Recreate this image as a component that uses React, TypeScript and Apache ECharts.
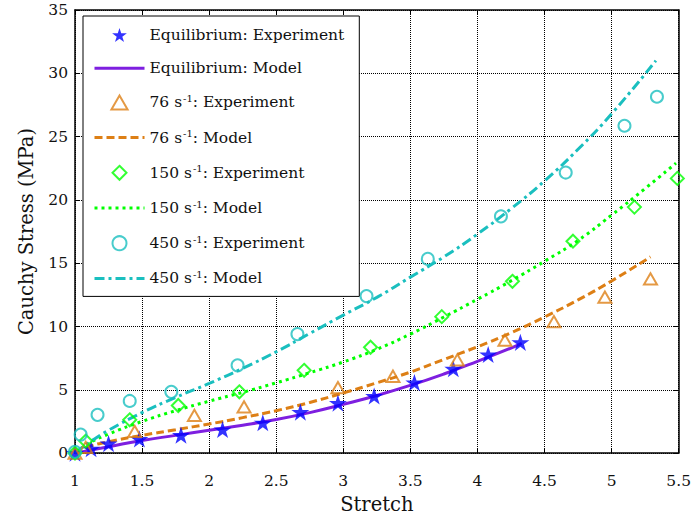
import React, { useEffect, useRef } from "react";
import * as echarts from "echarts";

// Equilibrium
const eqExpX = [1.0, 1.12, 1.25, 1.48, 1.79, 2.1, 2.4, 2.68, 2.96, 3.23, 3.53, 3.82, 4.08, 4.32];
const eqExpY = [0.0, 0.35, 0.75, 1.12, 1.42, 1.86, 2.4, 3.24, 3.95, 4.51, 5.57, 6.66, 7.79, 8.75];
const eqModelX = [1, 1.25, 1.5, 1.75, 2, 2.25, 2.5, 2.75, 3, 3.25, 3.5, 3.75, 4, 4.25, 4.33];
const eqModelY = [0, 0.5, 1.0, 1.4, 1.8, 2.2, 2.65, 3.2, 3.85, 4.55, 5.35, 6.25, 7.25, 8.3, 8.67];

// 76 s^-1
const r76ExpX = [1.0, 1.08, 1.445, 1.89, 2.26, 2.96, 3.37, 3.85, 4.205, 4.57, 4.95, 5.29];
const r76ExpY = [0.0, 0.45, 1.72, 2.98, 3.65, 5.18, 6.07, 7.37, 8.93, 10.39, 12.32, 13.77];
const r76ModelX = [1, 1.1, 1.25, 1.5, 1.75, 2, 2.25, 2.5, 2.75, 3, 3.25, 3.5, 3.75, 4, 4.25, 4.5, 4.75, 5, 5.29];
const r76ModelY = [0, 0.5, 0.9, 1.4, 1.85, 2.3, 2.8, 3.35, 4.0, 4.75, 5.55, 6.4, 7.4, 8.4, 9.5, 10.75, 12.1, 13.6, 15.5];

// 150 s^-1
const r150ExpX = [1.0, 1.08, 1.408, 1.77, 2.225, 2.708, 3.203, 3.734, 4.261, 4.712, 5.17, 5.49];
const r150ExpY = [0.0, 0.95, 2.63, 3.76, 4.84, 6.54, 8.36, 10.78, 13.57, 16.74, 19.43, 21.7];
const r150ModelX = [1, 1.1, 1.25, 1.5, 1.75, 2, 2.25, 2.5, 2.75, 3, 3.25, 3.5, 3.75, 4, 4.25, 4.5, 4.75, 5, 5.25, 5.48];
const r150ModelY = [0, 0.75, 1.5, 2.5, 3.35, 4.1, 4.8, 5.55, 6.35, 7.2, 8.2, 9.4, 10.75, 12.15, 13.6, 15.15, 16.8, 18.8, 20.9, 22.9];

// 450 s^-1
const r450ExpX = [1.0, 1.042, 1.168, 1.408, 1.718, 2.212, 2.658, 3.173, 3.63, 4.175, 4.658, 5.096, 5.338];
const r450ExpY = [0.1, 1.46, 3.02, 4.12, 4.84, 6.93, 9.4, 12.4, 15.34, 18.7, 22.16, 25.86, 28.15];
const r450ModelX = [1, 1.1, 1.25, 1.5, 1.75, 2, 2.25, 2.5, 2.75, 3, 3.25, 3.5, 3.75, 4, 4.25, 4.5, 4.75, 5, 5.33];
const r450ModelY = [0, 0.8, 1.8, 3.2, 4.4, 5.5, 6.7, 8.0, 9.45, 10.9, 12.3, 13.9, 15.5, 17.3, 19.3, 21.5, 24.0, 26.8, 31.0];

const xTicks = { min: 1, max: 5.5, interval: 0.5 };
const yTicks = { min: 0, max: 35, interval: 5 };

const names = [
  "Equilibrium: Experiment",
  "Equilibrium: Model",
  "76 s^-1: Experiment",
  "76 s^-1: Model",
  "150 s^-1: Experiment",
  "150 s^-1: Model",
  "450 s^-1: Experiment",
  "450 s^-1: Model",
];

const C_BLUE = "#0000ff";
const C_PURPLE = "#7e1fe0";
const C_ORANGE = "#dd7f15";
const C_GREEN = "#00ff00";
const C_CYAN = "#1abfbf";

const STAR =
  "path://M50,0 L61.2,34.5 L97.6,34.5 L68.2,55.9 L79.4,90.5 L50,69.1 L20.6,90.5 L31.8,55.9 L2.4,34.5 L38.8,34.5 Z";
const TRI = "path://M50,0 L100,86.6 L0,86.6 Z";
const DIA = "path://M50,0 L100,50 L50,100 L0,50 Z";

const FONT = "DejaVu Serif";
const FS_TICK = 15.5;
const FS_LEG = 15.5;
const FS_NAME = 19.5;

const zip = (xs: number[], ys: number[]) => xs.map((x, i) => [x, ys[i]]);

export default function App() {
  const ref = useRef<HTMLDivElement>(null);
  useEffect(() => {
    document.body.style.margin = "0";
    if (!ref.current) return;
    const chart = echarts.init(ref.current, null, { renderer: "svg" });

    const scatter = (name: string, xs: number[], ys: number[], symbol: string, size: number, color: string, filled: boolean) => ({
      type: "scatter",
      name,
      data: zip(xs, ys),
      symbol,
      symbolSize: size,
      symbolKeepAspect: true,
      z: 3,
      itemStyle: filled
        ? { color }
        : { color: "rgba(0,0,0,0)", borderColor: color, borderWidth: 2 },
    });
    const line = (name: string, xs: number[], ys: number[], color: string, type: any) => ({
      type: "line",
      name,
      data: zip(xs, ys),
      symbol: "none",
      smooth: 0.5,
      z: 2,
      lineStyle: { color, width: 3, type },
      itemStyle: { color },
    });

    const axisCommon = {
      type: "value",
      axisLine: { show: true, onZero: false, lineStyle: { color: "#000", width: 1.5 } },
      axisTick: { show: true, inside: true, length: 5, lineStyle: { color: "#000", width: 1 } },
    };

    const legendData = names.map((n, i) =>
      i % 2 === 1
        ? { name: n, itemStyle: { color: "rgba(0,0,0,0)", borderColor: "rgba(0,0,0,0)", borderWidth: 0 } }
        : { name: n }
    );

    chart.setOption({
      animation: false,
      backgroundColor: "#fff",
      grid: { left: 75, right: 13, top: 10, bottom: 62, containLabel: false },
      legend: {
        show: true,
        orient: "vertical",
        left: 83,
        top: 16,
        padding: [11, 15, 9, 10],
        itemWidth: 50,
        itemHeight: 14,
        itemGap: 17.2,
        backgroundColor: "#fff",
        borderColor: "#000",
        borderWidth: 1,
        selectedMode: false,
        lineStyle: { width: 3 },
        data: legendData,
        formatter: (n: string) => {
          const parts = n.split("^-1");
          if (parts.length === 1) return `{t|${n}}`;
          return `{t|${parts[0]}}{sup|-1}{t|${parts[1]}}`;
        },
        textStyle: {
          fontFamily: FONT,
          fontSize: FS_LEG,
          color: "#111",
          rich: {
            t: { fontFamily: FONT, fontSize: FS_LEG, lineHeight: 18, color: "#111" },
            sup: { fontFamily: FONT, fontSize: 10, lineHeight: 10, color: "#111", padding: [0, 0, 8, 1] },
          },
        },
      },
      xAxis: [
        {
          ...axisCommon,
          position: "bottom",
          ...xTicks,
          name: "Stretch",
          nameLocation: "middle",
          nameGap: 40,
          nameTextStyle: { fontFamily: FONT, fontSize: FS_NAME, color: "#111" },
          axisLabel: { fontFamily: FONT, fontSize: FS_TICK, color: "#111", margin: 20 },
          splitLine: { show: true, lineStyle: { color: "#000", type: [1, 1], width: 1 } },
        },
        {
          ...axisCommon,
          position: "top",
          ...xTicks,
          axisLabel: { show: false },
          splitLine: { show: false },
        },
      ],
      yAxis: [
        {
          ...axisCommon,
          position: "left",
          ...yTicks,
          name: "Cauchy Stress (MPa)",
          nameLocation: "middle",
          nameGap: 39,
          nameTextStyle: { fontFamily: FONT, fontSize: FS_NAME, color: "#111" },
          axisLabel: { fontFamily: FONT, fontSize: FS_TICK, color: "#111", margin: 7 },
          splitLine: { show: true, lineStyle: { color: "#000", type: [1, 1], width: 1 } },
        },
        {
          ...axisCommon,
          position: "right",
          ...yTicks,
          axisLabel: { show: false },
          splitLine: { show: false },
        },
      ],
      series: [
        scatter(names[0], eqExpX, eqExpY, STAR, 18, C_BLUE, true),
        line(names[1], eqModelX, eqModelY, C_PURPLE, "solid"),
        scatter(names[2], r76ExpX, r76ExpY, TRI, 13, C_ORANGE, false),
        line(names[3], r76ModelX, r76ModelY, C_ORANGE, [8, 4]),
        scatter(names[4], r150ExpX, r150ExpY, DIA, 13, C_GREEN, false),
        line(names[5], r150ModelX, r150ModelY, C_GREEN, [3, 4]),
        scatter(names[6], r450ExpX, r450ExpY, "circle", 12, C_CYAN, false),
        line(names[7], r450ModelX, r450ModelY, C_CYAN, [10, 4, 3, 4]),
      ],
    });
    return () => chart.dispose();
  }, []);
  return <div ref={ref} style={{ width: 694, height: 519 }} />;
}
